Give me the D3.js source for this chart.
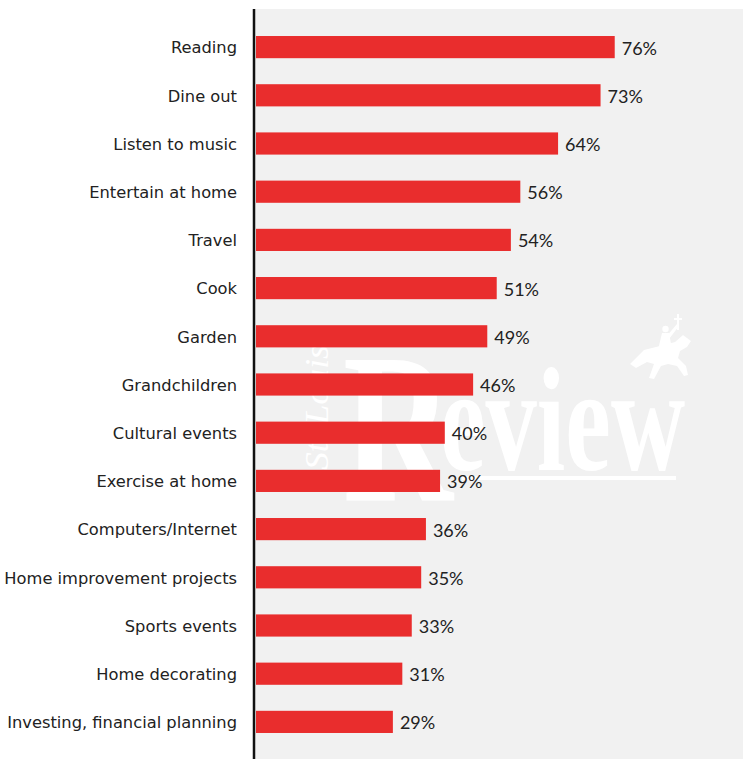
<!DOCTYPE html>
<html>
<head>
<meta charset="utf-8">
<script src="https://cdn.jsdelivr.net/npm/d3@7"></script>
<style>
  html, body { margin: 0; padding: 0; background: #ffffff; }
  svg { display: block; }
</style>
</head>
<body>
<div id="chart"></div>
<script>
const categories = [
  "Reading", "Dine out", "Listen to music", "Entertain at home", "Travel",
  "Cook", "Garden", "Grandchildren", "Cultural events", "Exercise at home",
  "Computers/Internet", "Home improvement projects", "Sports events",
  "Home decorating", "Investing, financial planning"
];
const values = [76, 73, 64, 56, 54, 51, 49, 46, 40, 39, 36, 35, 33, 31, 29];
const valueLabels = ["76%", "73%", "64%", "56%", "54%", "51%", "49%", "46%", "40%", "39%", "36%", "35%", "33%", "31%", "29%"];

const W = 743, H = 759;
const svg = d3.select("#chart").append("svg").attr("width", W).attr("height", H);

const axisX = 254;
const panelTop = 9;

// panel background
svg.append("rect").attr("x", axisX).attr("y", panelTop)
  .attr("width", W - axisX).attr("height", H - panelTop).attr("fill", "#f1f1f1");

// watermark (logo)
const wm = svg.append("g").attr("fill", "#ffffff");
wm.append("text").attr("x", 343).attr("y", 500)
  .attr("font-family", "Liberation Serif, serif").attr("font-weight", "bold")
  .attr("font-size", 215)
  .attr("textLength", 110).attr("lengthAdjust", "spacingAndGlyphs")
  .text("R");
wm.append("text").attr("x", 440).attr("y", 470)
  .attr("font-family", "Liberation Serif, serif").attr("font-weight", "bold")
  .attr("font-size", 148)
  .attr("textLength", 245).attr("lengthAdjust", "spacingAndGlyphs")
  .text("eview");
wm.append("rect").attr("x", 462).attr("y", 476).attr("width", 214).attr("height", 4);
wm.append("text")
  .attr("transform", "translate(328,470) rotate(-90)")
  .attr("font-family", "Liberation Serif, serif").attr("font-style", "italic")
  .attr("font-size", 34).attr("textLength", 125).attr("lengthAdjust", "spacingAndGlyphs")
  .text("St. Louis");
// rider silhouette (approximate)
wm.append("path")
  .attr("d", "M630,364 L644,350 L660,346 L675,342 L683,335 L691,341 L687,347 L680,351 L678,358 L686,366 L688,375 L684,376 L677,366 L668,364 L661,366 L654,379 L649,378 L654,364 L647,362 L636,368 Z");
wm.append("path")
  .attr("d", "M658,350 L662,333 L669,333 L672,349 Z");
wm.append("circle").attr("cx", 665.5).attr("cy", 329).attr("r", 3.2);
wm.append("path").attr("d", "M666,337 L677,324 L679,326 L669,339 Z");
wm.append("path").attr("d", "M677,314 L679,314 L679,330 L677,330 Z M674,318 L682,318 L682,320 L674,320 Z");

// scales
const x = d3.scaleLinear().domain([0, 100]).range([axisX + 2, axisX + 2 + 472]);
const y = d3.scaleBand().domain(categories).range([23, 746])
  .paddingInner(0.54).paddingOuter(0.27);

const data = categories.map((c, i) => ({ c, v: values[i], l: valueLabels[i] }));

svg.append("g").selectAll("rect").data(data).join("rect")
  .attr("x", x(0)).attr("y", d => y(d.c))
  .attr("width", d => x(d.v) - x(0)).attr("height", y.bandwidth())
  .attr("fill", "#e92d2d");

svg.append("g").selectAll("text").data(data).join("text")
  .attr("x", d => x(d.v) + 7).attr("y", d => y(d.c) + y.bandwidth() / 2)
  .attr("dy", "0.42em")
  .attr("font-family", "Lato, sans-serif").attr("font-size", 18)
  .attr("fill", "#222222")
  .text(d => d.l);

// category labels
const yAxis = d3.axisLeft(y).tickSize(0).tickPadding(17);
const ga = svg.append("g").attr("transform", `translate(${axisX},0)`).call(yAxis);
ga.select(".domain").remove();
ga.selectAll("text")
  .attr("font-family", "DejaVu Sans, sans-serif").attr("font-size", 16.3)
  .attr("fill", "#222222").attr("dy", "0.38em");

// axis line
svg.append("line").attr("x1", axisX).attr("x2", axisX)
  .attr("y1", panelTop).attr("y2", H)
  .attr("stroke", "#111111").attr("stroke-width", 2.5);
</script>
</body>
</html>
